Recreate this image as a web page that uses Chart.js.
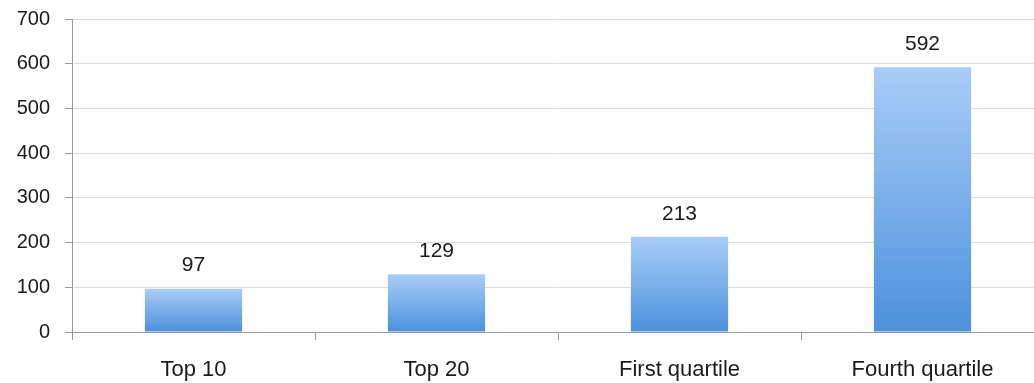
<!DOCTYPE html>
<html>
<head>
<meta charset="utf-8">
<script src="https://cdn.jsdelivr.net/npm/chart.js@4/dist/chart.umd.min.js"></script>
<style>
  html, body { margin: 0; padding: 0; background: #fff; overflow: hidden; }
  #wrap { width: 1044px; height: 383px; }
</style>
</head>
<body>
<div id="wrap"><canvas id="chart"></canvas></div>
<script>
// Data
const categories = ['Top 10', 'Top 20', 'First quartile', 'Fourth quartile'];
const counts = [97, 129, 213, 592];
const yTicks = [0, 100, 200, 300, 400, 500, 600, 700];

const FONT = 'Liberation Sans, Arial, Helvetica, sans-serif';

// bars fade from light blue at the top to a deeper blue at the axis
function barGradient(ctx) {
    const chart = ctx.chart;
    if (!chart.chartArea) return '#7fb0ec';
    const y0 = chart.scales.y.getPixelForValue(0);
    const y1 = chart.scales.y.getPixelForValue(counts[ctx.dataIndex]);
    const g = chart.ctx.createLinearGradient(0, y1, 0, y0);
    g.addColorStop(0, '#a9cdf8');
    g.addColorStop(1, '#4b91dc');
    return g;
}

// value labels above each bar
const valueLabels = {
    id: 'valueLabels',
    afterDatasetsDraw(chart) {
        const c = chart.ctx;
        c.save();
        c.font = '21px ' + FONT;
        c.fillStyle = '#1a1a1a';
        c.textAlign = 'center';
        c.textBaseline = 'middle';
        chart.getDatasetMeta(0).data.forEach((bar, i) => {
            c.fillText(String(counts[i]), bar.x, bar.y - 23);
        });
        c.restore();
    }
};

new Chart(document.getElementById('chart'), {
    type: 'bar',
    data: {
        labels: categories,
        datasets: [{
            data: counts,
            backgroundColor: barGradient,
            borderWidth: 0,
            categoryPercentage: 1,
            barPercentage: 0.4
        }]
    },
    options: {
        responsive: true,
        maintainAspectRatio: false,
        animation: false,
        layout: { padding: { top: 19, right: 0, left: 0, bottom: 0 } },
        plugins: {
            legend: { display: false },
            tooltip: { enabled: false }
        },
        scales: {
            x: {
                afterFit(s) { s.height = 51; },
                grid: {
                    drawOnChartArea: false,
                    drawTicks: true,
                    tickLength: 8,
                    tickColor: '#999'
                },
                border: { color: '#999', width: 1 },
                ticks: {
                    color: '#1a1a1a',
                    font: { family: FONT, size: 22 },
                    padding: 17
                }
            },
            y: {
                min: 0,
                max: 700,
                afterFit(s) { s.width = 72; },
                afterBuildTicks(s) { s.ticks = yTicks.map(v => ({ value: v })); },
                grid: {
                    color: '#dcdcdc',
                    tickColor: '#999',
                    tickLength: 7
                },
                border: { color: '#999', width: 1 },
                ticks: {
                    color: '#1a1a1a',
                    font: { family: FONT, size: 20, lineHeight: 0.05 },
                    padding: 15
                }
            }
        }
    },
    plugins: [valueLabels]
});
</script>
</body>
</html>
